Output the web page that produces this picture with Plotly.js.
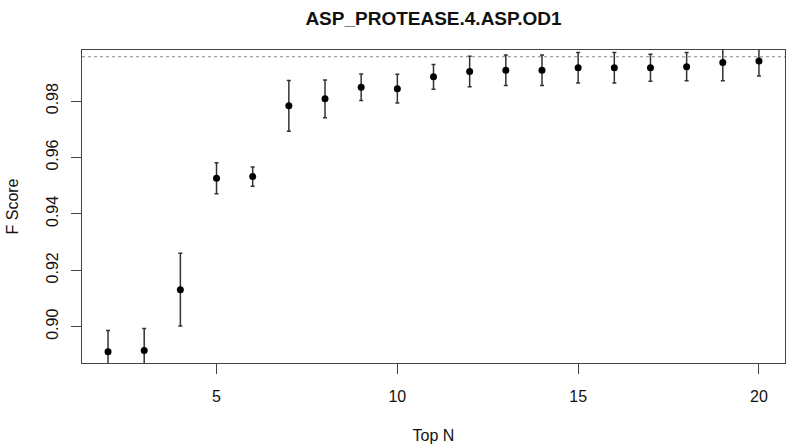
<!DOCTYPE html>
<html>
<head>
<meta charset="utf-8">
<script src="https://cdn.plot.ly/plotly-3.0.1.min.js"></script>
<style>html,body{margin:0;padding:0;background:#fff;}#chart{width:788px;height:445px;}</style>
</head>
<body>
<div id="chart"></div>
<script>
var topN = [2, 3, 4, 5, 6, 7, 8, 9, 10, 11, 12, 13, 14, 15, 16, 17, 18, 19, 20];
var fScore = [0.8911, 0.8915, 0.9131, 0.9526, 0.9532, 0.9783, 0.9808, 0.9849, 0.9844, 0.9886, 0.9905, 0.9909, 0.9909, 0.9918, 0.9918, 0.9918, 0.9922, 0.9937, 0.9942];
var fErr = [0.0075, 0.0078, 0.0129, 0.0055, 0.0034, 0.0090, 0.0067, 0.0047, 0.0051, 0.0044, 0.0054, 0.0054, 0.0054, 0.0054, 0.0054, 0.0048, 0.0050, 0.0065, 0.0053];
var refLine = 0.9957;
var xTicks = [5, 10, 15, 20];
var yTicks = [0.90, 0.92, 0.94, 0.96, 0.98];
var yTickText = ["0.90", "0.92", "0.94", "0.96", "0.98"];

var font = "Liberation Sans, Arial, Helvetica, sans-serif";

var trace = {
  x: topN,
  y: fScore,
  type: "scatter",
  mode: "markers",
  marker: {color: "#000", size: 7},
  error_y: {type: "data", array: fErr, visible: true, color: "#333", thickness: 1.5, width: 2},
  hoverinfo: "x+y"
};

var layout = {
  width: 788,
  height: 445,
  margin: {l: 82, r: 3, t: 50, b: 82},
  paper_bgcolor: "#fff",
  plot_bgcolor: "#fff",
  showlegend: false,
  font: {family: font, color: "#111", size: 16},
  title: {
    text: "<b>ASP_PROTEASE.4.ASP.OD1</b>",
    font: {family: font, size: 19, color: "#111"},
    x: 0.5, xref: "paper", xanchor: "center",
    y: 1 - 18 / 445, yref: "container", yanchor: "middle"
  },
  xaxis: {
    range: [1.28, 20.72],
    tickvals: xTicks,
    ticktext: xTicks.map(String),
    ticks: "outside", ticklen: 10, tickcolor: "#444", tickwidth: 1,
    ticklabelstandoff: 9,
    showline: true, mirror: true, linecolor: "#444", linewidth: 1,
    showgrid: false, zeroline: false,
    tickfont: {size: 16},
    title: {text: "Top N", font: {size: 16}, standoff: 25},
    automargin: false
  },
  yaxis: {
    range: [0.8871, 0.9981],
    tickvals: yTicks,
    ticktext: yTickText,
    tickangle: -90,
    ticks: "outside", ticklen: 10, tickcolor: "#444", tickwidth: 1,
    ticklabelstandoff: 7,
    showline: true, mirror: true, linecolor: "#444", linewidth: 1,
    showgrid: false, zeroline: false,
    tickfont: {size: 16},
    title: {text: "F Score", font: {size: 16}, standoff: 20},
    automargin: false
  },
  shapes: [{
    type: "line", xref: "paper", x0: 0, x1: 1, yref: "y", y0: refLine, y1: refLine,
    line: {color: "#888", width: 1, dash: "dot"}
  }]
};

Plotly.newPlot("chart", [trace], layout, {displayModeBar: false, staticPlot: true});
</script>
</body>
</html>
